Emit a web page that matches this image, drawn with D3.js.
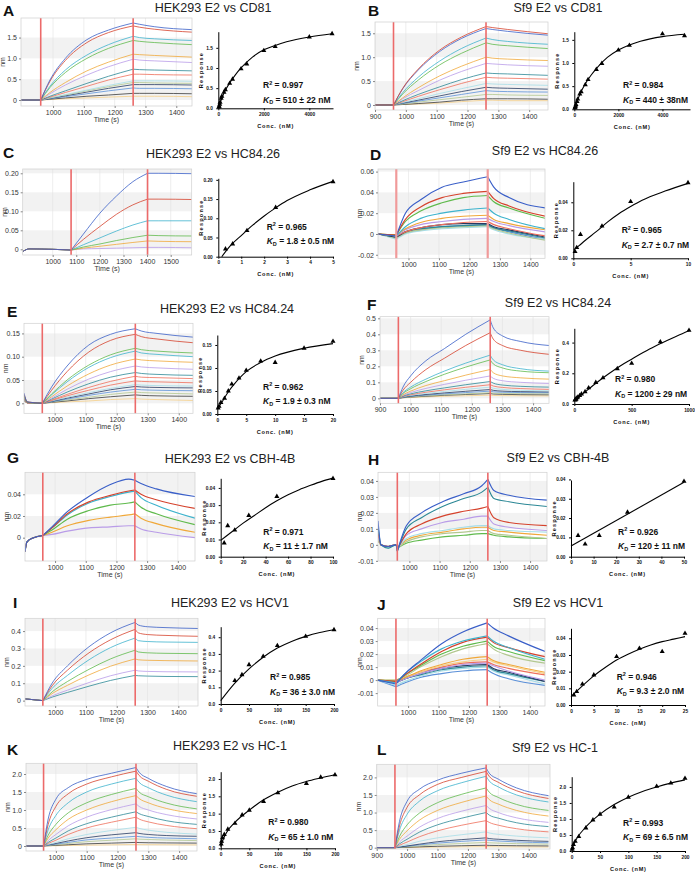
<!DOCTYPE html>
<html><head><meta charset="utf-8">
<script src="https://cdn.jsdelivr.net/npm/d3@7"></script>
<style>body{margin:0;background:#fff}svg{display:block}</style>
</head><body>
<svg id="fig" width="695" height="873"></svg>
<script>
// ================= DATA =================
const panelLetters = ["A","B","C","D","E","F","G","H","I","J","K","L"];
const panelTitles = ["HEK293 E2 vs CD81","Sf9 E2 vs CD81","HEK293 E2 vs HC84.26","Sf9 E2 vs HC84.26",
  "HEK293 E2 vs HC84.24","Sf9 E2 vs HC84.24","HEK293 E2 vs CBH-4B","Sf9 E2 vs CBH-4B",
  "HEK293 E2 vs HCV1","Sf9 E2 vs HCV1","HEK293 E2 vs HC-1","Sf9 E2 vs HC-1"];
const r2Values = ["0.997","0.984","0.965","0.965","0.962","0.980","0.971","0.926","0.985","0.946","0.980","0.993"];
const kdValues = ["510 ± 22 nM","440 ± 38nM","1.8 ± 0.5 nM","2.7 ± 0.7 nM","1.9 ± 0.3 nM","1200 ± 29 nM",
  "11 ± 1.7 nM","120 ± 11 nM","36 ± 3.0 nM","9.3 ± 2.0 nM","65 ± 1.0 nM","69 ± 6.5 nM"];
const redLines = [[960,1260],[960,1260],[1078,1402],[960,1260],[960,1260],[960,1260],
  [960,1260],[960,1260],[960,1260],[960,1260],[960,1260],[960,1260]];

// ---- A ----
const A_times = [896,960,990,1040,1110,1180,1260,1280,1330,1451];
const A_curves = [
 [0,0,0.48,1.00,1.45,1.68,1.85,1.82,1.76,1.69],
 [0,0,0.45,0.95,1.38,1.62,1.78,1.75,1.70,1.63],
 [0,0,0.33,0.72,1.08,1.33,1.53,1.50,1.47,1.43],
 [0,0,0.30,0.66,1.00,1.24,1.43,1.41,1.38,1.33],
 [0,0,0.18,0.42,0.70,0.91,1.10,1.09,1.07,1.03],
 [0,0,0.15,0.36,0.60,0.80,0.98,0.96,0.94,0.90],
 [0,0,0.09,0.22,0.40,0.57,0.74,0.73,0.72,0.70],
 [0,0,0.07,0.18,0.33,0.48,0.62,0.62,0.61,0.60],
 [0,0,0.05,0.13,0.24,0.35,0.46,0.46,0.46,0.45],
 [0,0,0.05,0.12,0.22,0.32,0.42,0.42,0.41,0.40],
 [0,0,0.04,0.10,0.19,0.28,0.37,0.37,0.37,0.36],
 [0,0,0.03,0.08,0.15,0.22,0.29,0.28,0.28,0.27],
 [0,0,0.02,0.05,0.09,0.12,0.16,0.16,0.16,0.15],
 [0,0,0.01,0.03,0.05,0.07,0.09,0.09,0.09,0.08]];
const A_conc = [31,39,62.5,78,125,156,250,312,500,625,1000,1250,2000,2500,4000,5000];
const A_resp = [0.03,0.05,0.10,0.15,0.25,0.30,0.40,0.46,0.62,0.72,0.98,1.10,1.43,1.53,1.77,1.85];
const A_fitX = [0,100,250,500,750,1000,1500,2000,2500,3000,4000,5000];
const A_fitY = [0,0.17,0.38,0.63,0.83,1.00,1.27,1.45,1.56,1.65,1.77,1.85];
const A_sgX = [1000,1100,1200,1300,1400];
const A_sgY = [0,0.5,1.0,1.5]; const A_sgYLab = ["0","0.5","1.0","1.5"];
const A_bX = [0,2000,4000]; const A_bY = [0,0.5,1.0,1.5]; const A_bYLab = ["0.0","0.5","1.0","1.5"];

// ---- B ----
const B_times = [900,960,990,1040,1110,1180,1260,1280,1330,1461];
const B_curves = [
 [0,0,0.35,0.75,1.15,1.42,1.64,1.62,1.58,1.49],
 [0,0,0.34,0.73,1.12,1.39,1.60,1.58,1.54,1.46],
 [0,0,0.26,0.58,0.92,1.18,1.40,1.37,1.33,1.27],
 [0,0,0.23,0.52,0.84,1.08,1.30,1.27,1.24,1.18],
 [0,0,0.15,0.36,0.61,0.81,1.00,0.98,0.96,0.93],
 [0,0,0.13,0.30,0.52,0.70,0.87,0.86,0.84,0.81],
 [0,0,0.09,0.22,0.38,0.53,0.67,0.66,0.65,0.62],
 [0,0,0.07,0.18,0.32,0.45,0.58,0.57,0.56,0.54],
 [0,0,0.05,0.13,0.24,0.34,0.45,0.44,0.43,0.41],
 [0,0,0.04,0.10,0.19,0.28,0.37,0.36,0.35,0.33],
 [0,0,0.03,0.08,0.15,0.22,0.30,0.29,0.28,0.27],
 [0,0,0.02,0.06,0.11,0.16,0.22,0.22,0.21,0.20],
 [0,0,0.01,0.03,0.06,0.10,0.13,0.13,0.13,0.12],
 [0,0,0.01,0.02,0.04,0.07,0.10,0.10,0.09,0.09]];
const B_conc = [31,39,62.5,78,125,156,250,312,500,625,1000,1250,2000,2500,4000,5000];
const B_resp = [0.03,0.05,0.07,0.10,0.17,0.22,0.33,0.38,0.53,0.64,0.86,0.99,1.28,1.38,1.63,1.59];
const B_fitX = [0,100,250,500,750,1000,1500,2000,2500,3000,4000,5000];
const B_fitY = [0,0.14,0.32,0.55,0.73,0.88,1.12,1.28,1.39,1.47,1.57,1.62];
const B_sgX = [900,1000,1100,1200,1300,1400];
const B_sgY = [0,0.5,1.0,1.5]; const B_sgYLab = ["0","0.5","1.0","1.5"];
const B_bX = [0,2000,4000]; const B_bY = [0,0.5,1.0,1.5]; const B_bYLab = ["0.0","0.5","1.0","1.5"];

// ---- C ----
const C_times = [873,900,1000,1078,1130,1200,1270,1340,1402,1450,1589];
const C_curves = [
 [-0.006,0.001,0,-0.002,0.040,0.095,0.140,0.178,0.200,0.200,0.199],
 [-0.006,0.001,0,-0.002,0.026,0.060,0.092,0.117,0.132,0.132,0.131],
 [-0.006,0.001,0,-0.002,0.012,0.030,0.048,0.064,0.075,0.075,0.075],
 [-0.006,0.001,0,-0.002,0.006,0.014,0.023,0.031,0.037,0.036,0.035],
 [-0.006,0.001,0,-0.002,0.003,0.008,0.013,0.018,0.022,0.021,0.020],
 [-0.006,0.001,0,-0.002,0.001,0.002,0.003,0.004,0.005,0.005,0.004]];
const C_conc = [0.3125,0.625,1.25,2.5,5];
const C_resp = [0.020,0.033,0.068,0.128,0.195];
const C_fitX = [0.15,0.5,1,1.5,2,2.5,3,4,5];
const C_fitY = [0,0.027,0.055,0.082,0.106,0.127,0.146,0.174,0.196];
const C_sgX = [1000,1100,1200,1300,1400,1500];
const C_sgY = [0,0.05,0.10,0.15,0.20]; const C_sgYLab = ["0","0.05","0.10","0.15","0.20"];
const C_bX = [0,1,2,3,4,5]; const C_bY = [0,0.05,0.10,0.15,0.20]; const C_bYLab = ["0.00","0.05","0.10","0.15","0.20"];

// ---- D ----
const D_times = [900,960,990,1040,1110,1180,1260,1280,1330,1450];
const D_curves = [
 [0,-0.002,0.020,0.033,0.045,0.050,0.055,0.045,0.035,0.025],
 [0,-0.001,0.014,0.026,0.035,0.039,0.041,0.034,0.027,0.017],
 [0,-0.001,0.012,0.022,0.030,0.035,0.037,0.031,0.025,0.015],
 [0,-0.002,0.007,0.015,0.020,0.023,0.025,0.020,0.014,0.005],
 [0,-0.001,0.005,0.011,0.015,0.017,0.018,0.014,0.010,0.004],
 [0,-0.002,0.004,0.009,0.012,0.014,0.015,0.012,0.008,0.002],
 [0,-0.002,0.002,0.006,0.009,0.011,0.012,0.009,0.005,-0.002],
 [0,-0.003,0.002,0.006,0.009,0.010,0.010,0.007,0.004,-0.003],
 [0,-0.003,0.002,0.005,0.007,0.008,0.009,0.006,0.003,-0.004],
 [0,-0.004,0.001,0.004,0.006,0.007,0.008,0.005,0.001,-0.006],
 [0,-0.005,0.000,0.003,0.005,0.006,0.007,0.004,0.000,-0.005],
 [0,-0.003,0.001,0.004,0.007,0.008,0.009,0.006,0.002,-0.005]];
const D_conc = [0.15,0.3,0.625,2.5,5,10];
const D_resp = [0.0048,0.0076,0.017,0.023,0.0405,0.054];
const D_fitX = [0.05,0.5,1,2,3,4,5,6,8,10];
const D_fitY = [0.006,0.009,0.0125,0.019,0.026,0.032,0.037,0.0415,0.048,0.0535];
const D_sgX = [1000,1100,1200,1300,1400];
const D_sgY = [-0.02,0,0.02,0.04,0.06]; const D_sgYLab = ["-0.02","0","0.02","0.04","0.06"];
const D_bX = [0,5,10]; const D_bY = [0,0.02,0.04]; const D_bYLab = ["0.00","0.02","0.04"];

// ---- E ----
const E_times = [901,912,960,990,1040,1110,1180,1260,1280,1330,1446];
const E_curves = [
 [0.022,0.003,0,0.035,0.080,0.125,0.148,0.160,0.155,0.150,0.142],
 [0.020,0.003,0,0.028,0.068,0.110,0.135,0.148,0.143,0.138,0.130],
 [0.018,0.002,0,0.020,0.050,0.082,0.104,0.118,0.115,0.112,0.108],
 [0.018,0.002,0,0.018,0.046,0.077,0.098,0.112,0.108,0.105,0.100],
 [0.015,0.002,0,0.014,0.037,0.063,0.082,0.095,0.093,0.091,0.088],
 [0.015,0.002,0,0.011,0.030,0.052,0.068,0.080,0.078,0.076,0.073],
 [0.012,0.002,0,0.009,0.024,0.042,0.056,0.066,0.064,0.062,0.060],
 [0.012,0.001,0,0.007,0.019,0.034,0.047,0.058,0.056,0.055,0.053],
 [0.010,0.001,0,0.006,0.016,0.028,0.039,0.048,0.047,0.046,0.044],
 [0.010,0.001,0,0.005,0.013,0.023,0.032,0.040,0.039,0.038,0.037],
 [0.010,0.001,0,0.004,0.011,0.020,0.029,0.036,0.035,0.034,0.033],
 [0.008,0.001,0,0.003,0.009,0.017,0.024,0.030,0.029,0.028,0.027],
 [0.008,0.001,0,0.003,0.007,0.013,0.019,0.024,0.023,0.022,0.020],
 [0.006,0.001,0,0.002,0.005,0.010,0.014,0.018,0.017,0.016,0.015],
 [0.006,0.001,0,0.001,0.003,0.005,0.008,0.010,0.009,0.008,0.006]];
const E_conc = [0.15,0.3,0.625,1.25,1.9,2.5,3.75,5,7.5,10,15,20];
const E_resp = [0.013,0.017,0.025,0.034,0.050,0.065,0.078,0.095,0.115,0.112,0.143,0.158];
const E_fitX = [0.1,0.5,1,2,3,4,5,7.5,10,15,20];
const E_fitY = [0.013,0.020,0.030,0.050,0.066,0.080,0.092,0.112,0.126,0.143,0.153];
const E_sgX = [1000,1100,1200,1300,1400];
const E_sgY = [0,0.05,0.10,0.15]; const E_sgYLab = ["0","0.05","0.10","0.15"];
const E_bX = [0,5,10,15,20]; const E_bY = [0,0.05,0.10,0.15]; const E_bYLab = ["0.00","0.05","0.10","0.15"];

// ---- F ----
const F_times = [900,960,975,1000,1050,1110,1180,1260,1270,1300,1360,1452];
const F_curves = [
 [0,0,0.070,0.140,0.235,0.310,0.400,0.490,0.440,0.390,0.355,0.330],
 [0,0,0.050,0.100,0.180,0.250,0.330,0.410,0.370,0.330,0.300,0.275],
 [0,0,0.035,0.070,0.120,0.170,0.220,0.270,0.240,0.210,0.185,0.170],
 [0,0,0.030,0.060,0.105,0.150,0.195,0.240,0.215,0.190,0.170,0.160],
 [0,0,0.022,0.045,0.080,0.110,0.145,0.180,0.160,0.140,0.128,0.120],
 [0,0,0.018,0.036,0.062,0.087,0.113,0.140,0.125,0.110,0.100,0.093],
 [0,0,0.014,0.028,0.047,0.065,0.085,0.105,0.095,0.083,0.075,0.070],
 [0,0,0.011,0.022,0.038,0.053,0.069,0.085,0.077,0.068,0.061,0.056],
 [0,0,0.009,0.018,0.031,0.043,0.056,0.070,0.063,0.056,0.050,0.047],
 [0,0,0.007,0.014,0.024,0.034,0.044,0.055,0.050,0.045,0.042,0.040],
 [0,0,0.006,0.012,0.020,0.028,0.036,0.045,0.041,0.038,0.036,0.035],
 [0,0,0.005,0.009,0.016,0.022,0.028,0.035,0.032,0.030,0.029,0.028],
 [0,0,0.004,0.008,0.013,0.019,0.024,0.030,0.027,0.025,0.023,0.022],
 [0,0,0.003,0.005,0.009,0.013,0.016,0.020,0.018,0.017,0.016,0.015]];
const F_conc = [5.9,7.8,11.7,15.6,23.4,31.25,46.9,62.5,93.75,125,187.5,250,375,500,750,1000];
const F_resp = [0.025,0.027,0.030,0.033,0.040,0.045,0.055,0.065,0.080,0.105,0.140,0.170,0.230,0.265,0.405,0.480];
const F_fitX = [0,100,200,300,400,500,600,700,800,900,1000];
const F_fitY = [0.020,0.082,0.142,0.197,0.248,0.292,0.335,0.375,0.410,0.445,0.478];
const F_sgX = [900,1000,1100,1200,1300,1400];
const F_sgY = [0,0.1,0.2,0.3,0.4,0.5]; const F_sgYLab = ["0","0.1","0.2","0.3","0.4","0.5"];
const F_bX = [0,500,1000]; const F_bY = [0,0.2,0.4]; const F_bYLab = ["0.0","0.2","0.4"];

// ---- G ----
const G_times = [902,908,930,960,990,1040,1110,1180,1240,1260,1280,1330,1456];
const G_curves = [
 [-0.013,-0.004,0,0.002,0.010,0.024,0.038,0.049,0.054,0.053,0.050,0.045,0.038],
 [-0.013,-0.004,0,0.002,0.009,0.022,0.033,0.039,0.043,0.044,0.040,0.035,0.027],
 [-0.013,-0.004,0,0.002,0.009,0.021,0.032,0.038,0.042,0.043,0.037,0.030,0.018],
 [-0.013,-0.004,0,0.002,0.007,0.017,0.025,0.030,0.032,0.033,0.028,0.022,0.012],
 [-0.013,-0.004,0,0.002,0.005,0.011,0.016,0.019,0.021,0.022,0.018,0.013,0.005],
 [-0.013,-0.004,0,0.002,0.003,0.006,0.009,0.010,0.011,0.011,0.008,0.005,0.000]];
const G_conc = [3.125,6.25,12.5,25,50,100];
const G_resp = [0.008,0.018,0.0155,0.024,0.035,0.0455];
const G_fitX = [0,10,20,30,40,50,60,70,80,90,100];
const G_fitY = [0.0095,0.0145,0.0195,0.024,0.0285,0.0325,0.036,0.039,0.0415,0.0438,0.0457];
const G_sgX = [1000,1100,1200,1300,1400];
const G_sgY = [0,0.02,0.04]; const G_sgYLab = ["0","0.02","0.04"];
const G_bX = [0,20,40,60,80,100]; const G_bY = [0,0.01,0.02,0.03,0.04]; const G_bYLab = ["0.00","0.01","0.02","0.03","0.04"];

// ---- H ----
const H_times = [896,906,930,955,960,990,1040,1110,1180,1240,1260,1280,1330,1456];
const H_curves = [
 [0.015,0.000,-0.001,0.000,-0.004,0.012,0.020,0.027,0.032,0.037,0.041,0.034,0.031,0.028],
 [0.012,0.000,-0.002,0.000,-0.004,0.010,0.017,0.024,0.029,0.033,0.036,0.029,0.027,0.024],
 [0.008,0.000,-0.001,0.000,-0.003,0.007,0.013,0.018,0.021,0.023,0.024,0.017,0.014,0.012],
 [0.006,0.000,-0.001,0.000,-0.003,0.006,0.010,0.014,0.016,0.018,0.018,0.013,0.011,0.009],
 [0.005,0.000,-0.002,0.000,-0.003,0.004,0.007,0.009,0.011,0.012,0.012,0.010,0.009,0.008],
 [0.004,0.000,-0.001,0.000,-0.002,0.003,0.006,0.008,0.010,0.011,0.011,0.009,0.008,0.006],
 [0.003,0.000,-0.001,0.000,-0.002,0.002,0.005,0.007,0.008,0.009,0.009,0.007,0.006,0.004],
 [0.003,0.000,-0.001,0.000,-0.002,0.001,0.003,0.005,0.006,0.007,0.007,0.006,0.005,0.004]];
const H_conc = [3.125,6.25,12.5,25,50];
const H_resp = [0.011,0.0065,0.011,0.023,0.039];
const H_fitX = [0,50];
const H_fitY = [0.0055,0.0385];
const H_sgX = [1000,1100,1200,1300,1400];
const H_sgY = [-0.01,0,0.01,0.02,0.03,0.04]; const H_sgYLab = ["-0.01","0","0.01","0.02","0.03","0.04"];
const H_bX = [0,10,20,30,40,50]; const H_bY = [0,0.01,0.02,0.03,0.04]; const H_bYLab = ["0.00","0.01","0.02","0.03","0.04"];

// ---- I ----
const I_times = [902,960,990,1040,1110,1180,1260,1270,1300,1360,1464];
const I_curves = [
 [0.01,0,0.100,0.200,0.310,0.390,0.450,0.435,0.425,0.420,0.415],
 [0.01,0,0.085,0.175,0.275,0.350,0.410,0.390,0.380,0.375,0.370],
 [0.01,0,0.070,0.145,0.235,0.305,0.360,0.345,0.340,0.337,0.335],
 [0.01,0,0.050,0.110,0.180,0.240,0.290,0.280,0.275,0.272,0.270],
 [0.01,0,0.040,0.088,0.148,0.198,0.240,0.235,0.232,0.230,0.228],
 [0.01,0,0.027,0.060,0.104,0.143,0.175,0.171,0.168,0.166,0.165],
 [0.01,0,0.020,0.047,0.083,0.116,0.145,0.143,0.141,0.139,0.138]];
const I_conc = [25,37.5,50,75,100,150,200];
const I_resp = [0.140,0.175,0.235,0.285,0.350,0.405,0.445];
const I_fitX = [0,25,50,75,100,125,150,175,200];
const I_fitY = [0.020,0.125,0.210,0.280,0.335,0.375,0.405,0.428,0.445];
const I_sgX = [1000,1100,1200,1300,1400];
const I_sgY = [0,0.1,0.2,0.3,0.4]; const I_sgYLab = ["0","0.1","0.2","0.3","0.4"];
const I_bX = [0,50,100,150,200]; const I_bY = [0,0.1,0.2,0.3,0.4]; const I_bYLab = ["0.0","0.1","0.2","0.3","0.4"];

// ---- J ----
const J_times = [900,960,990,1040,1110,1180,1260,1280,1330,1450];
const J_curves = [
 [0,-0.003,0.005,0.015,0.028,0.037,0.044,0.040,0.034,0.022],
 [0,-0.002,0.005,0.014,0.024,0.030,0.034,0.030,0.025,0.016],
 [0,-0.001,0.004,0.012,0.022,0.029,0.033,0.029,0.025,0.018],
 [0,-0.001,0.004,0.011,0.020,0.026,0.030,0.026,0.022,0.015],
 [0,0.000,0.003,0.010,0.018,0.024,0.028,0.024,0.019,0.013],
 [0,-0.001,0.002,0.007,0.012,0.016,0.018,0.015,0.012,0.006],
 [0,0.000,0.002,0.006,0.011,0.014,0.016,0.014,0.011,0.005],
 [0,-0.002,0.001,0.005,0.009,0.012,0.013,0.011,0.007,0.000],
 [0,-0.002,0.001,0.005,0.009,0.011,0.012,0.009,0.006,-0.001],
 [0,-0.002,0.001,0.004,0.008,0.010,0.011,0.008,0.005,-0.001],
 [0,-0.004,-0.001,0.003,0.007,0.009,0.010,0.007,0.004,-0.003],
 [0,-0.005,-0.002,0.002,0.005,0.007,0.008,0.005,0.001,-0.004],
 [0,-0.001,0.002,0.006,0.010,0.013,0.014,0.012,0.009,0.004]];
const J_conc = [0.625,1.25,2.5,5,10,15,20,25];
const J_resp = [0.006,0.008,0.0125,0.018,0.029,0.034,0.032,0.043];
const J_fitX = [0,2.5,5,7.5,10,12.5,15,17.5,20,22.5,25];
const J_fitY = [0.005,0.0115,0.0175,0.0225,0.027,0.0305,0.0335,0.036,0.038,0.0395,0.041];
const J_sgX = [1000,1100,1200,1300,1400];
const J_sgY = [-0.01,0,0.01,0.02,0.03,0.04]; const J_sgYLab = ["-0.01","0","0.01","0.02","0.03","0.04"];
const J_bX = [0,5,10,15,20,25]; const J_bY = [0,0.01,0.02,0.03,0.04]; const J_bYLab = ["0.00","0.01","0.02","0.03","0.04"];

// ---- K ----
const K_times = [903,960,975,1000,1040,1100,1180,1260,1270,1300,1360,1458];
const K_curves = [
 [0,0,0.75,1.30,1.62,1.85,2.02,2.18,2.05,1.88,1.65,1.45],
 [0,0,0.60,1.10,1.45,1.72,1.92,2.08,1.96,1.80,1.57,1.38],
 [0,0,0.45,0.85,1.20,1.50,1.72,1.88,1.77,1.62,1.41,1.23],
 [0,0,0.30,0.60,0.92,1.20,1.43,1.60,1.50,1.37,1.19,1.03],
 [0,0,0.22,0.45,0.74,1.00,1.23,1.40,1.32,1.20,1.04,0.90],
 [0,0,0.15,0.32,0.56,0.80,1.01,1.17,1.10,1.00,0.87,0.75],
 [0,0,0.10,0.22,0.42,0.62,0.80,0.95,0.90,0.82,0.70,0.60],
 [0,0,0.07,0.16,0.32,0.50,0.66,0.80,0.75,0.67,0.57,0.48],
 [0,0,0.04,0.10,0.20,0.32,0.43,0.52,0.49,0.44,0.38,0.33],
 [0,0,0.03,0.07,0.14,0.23,0.31,0.37,0.35,0.32,0.29,0.27],
 [0,0,0.02,0.05,0.10,0.17,0.22,0.27,0.26,0.24,0.22,0.20],
 [0,0,0.015,0.035,0.07,0.12,0.16,0.20,0.19,0.18,0.165,0.15],
 [0,0,0.008,0.018,0.035,0.06,0.08,0.10,0.095,0.09,0.085,0.08],
 [0,0,0.003,0.007,0.014,0.024,0.032,0.04,0.038,0.036,0.033,0.03]];
const K_conc = [0.78,1.56,3.125,6.25,12.5,25,37.5,50,75,100,150,175,200];
const K_resp = [0.12,0.20,0.30,0.40,0.55,0.72,0.96,1.10,1.35,1.60,1.87,2.05,2.12];
const K_fitX = [0,2,5,10,25,50,75,100,125,150,175,200];
const K_fitY = [0.05,0.15,0.28,0.45,0.75,1.10,1.40,1.62,1.80,1.93,2.03,2.12];
const K_sgX = [1000,1100,1200,1300,1400];
const K_sgY = [0,0.5,1.0,1.5,2.0]; const K_sgYLab = ["0","0.5","1.0","1.5","2.0"];
const K_bX = [0,50,100,150,200]; const K_bY = [0,0.5,1.0,1.5,2.0]; const K_bYLab = ["0.0","0.5","1.0","1.5","2.0"];

// ---- L ----
const L_times = [900,960,975,1000,1040,1100,1180,1260,1270,1300,1360,1465];
const L_curves = [
 [0,0,0.75,1.32,1.66,1.92,2.12,2.27,2.12,1.95,1.70,1.48],
 [0,0,0.62,1.15,1.50,1.80,2.00,2.17,2.03,1.86,1.62,1.40],
 [0,0,0.50,0.95,1.32,1.62,1.85,2.03,1.90,1.73,1.50,1.30],
 [0,0,0.32,0.65,0.98,1.28,1.52,1.70,1.58,1.43,1.23,1.06],
 [0,0,0.24,0.48,0.78,1.06,1.29,1.47,1.37,1.24,1.06,0.90],
 [0,0,0.16,0.33,0.58,0.83,1.04,1.20,1.12,1.00,0.85,0.72],
 [0,0,0.11,0.24,0.44,0.65,0.84,1.00,0.93,0.84,0.71,0.60],
 [0,0,0.07,0.16,0.31,0.48,0.64,0.77,0.72,0.64,0.54,0.45],
 [0,0,0.04,0.09,0.18,0.28,0.37,0.45,0.42,0.38,0.33,0.28],
 [0,0,0.02,0.05,0.10,0.17,0.23,0.28,0.26,0.24,0.21,0.18],
 [0,0,0.016,0.04,0.08,0.13,0.18,0.22,0.21,0.19,0.165,0.14],
 [0,0,0.01,0.026,0.052,0.088,0.12,0.15,0.14,0.13,0.115,0.10],
 [0,0,0.005,0.012,0.024,0.04,0.056,0.07,0.066,0.062,0.056,0.05],
 [0,0,0.002,0.005,0.01,0.017,0.024,0.03,0.028,0.026,0.023,0.02]];
const L_conc = [0.78,1.56,3.125,6.25,12.5,25,37.5,50,75,100,150,175,200];
const L_resp = [0.05,0.10,0.20,0.30,0.45,0.72,0.97,1.15,1.37,1.68,2.02,2.12,2.27];
const L_fitX = [0,2,5,10,25,50,75,100,125,150,175,200];
const L_fitY = [0.05,0.14,0.26,0.42,0.75,1.15,1.45,1.68,1.86,2.00,2.12,2.22];
const L_sgX = [900,1000,1100,1200,1300,1400];
const L_sgY = [0,0.5,1.0,1.5,2.0]; const L_sgYLab = ["0","0.5","1.0","1.5","2.0"];
const L_bX = [0,50,100,150,200]; const L_bY = [0,0.5,1.0,1.5,2.0]; const L_bYLab = ["0.0","0.5","1.0","1.5","2.0"];

const panelData = [
 {times:A_times,curves:A_curves,conc:A_conc,resp:A_resp,fitX:A_fitX,fitY:A_fitY,sgX:A_sgX,sgY:A_sgY,sgYLab:A_sgYLab,bX:A_bX,bY:A_bY,bYLab:A_bYLab},
 {times:B_times,curves:B_curves,conc:B_conc,resp:B_resp,fitX:B_fitX,fitY:B_fitY,sgX:B_sgX,sgY:B_sgY,sgYLab:B_sgYLab,bX:B_bX,bY:B_bY,bYLab:B_bYLab},
 {times:C_times,curves:C_curves,conc:C_conc,resp:C_resp,fitX:C_fitX,fitY:C_fitY,sgX:C_sgX,sgY:C_sgY,sgYLab:C_sgYLab,bX:C_bX,bY:C_bY,bYLab:C_bYLab},
 {times:D_times,curves:D_curves,conc:D_conc,resp:D_resp,fitX:D_fitX,fitY:D_fitY,sgX:D_sgX,sgY:D_sgY,sgYLab:D_sgYLab,bX:D_bX,bY:D_bY,bYLab:D_bYLab},
 {times:E_times,curves:E_curves,conc:E_conc,resp:E_resp,fitX:E_fitX,fitY:E_fitY,sgX:E_sgX,sgY:E_sgY,sgYLab:E_sgYLab,bX:E_bX,bY:E_bY,bYLab:E_bYLab},
 {times:F_times,curves:F_curves,conc:F_conc,resp:F_resp,fitX:F_fitX,fitY:F_fitY,sgX:F_sgX,sgY:F_sgY,sgYLab:F_sgYLab,bX:F_bX,bY:F_bY,bYLab:F_bYLab},
 {times:G_times,curves:G_curves,conc:G_conc,resp:G_resp,fitX:G_fitX,fitY:G_fitY,sgX:G_sgX,sgY:G_sgY,sgYLab:G_sgYLab,bX:G_bX,bY:G_bY,bYLab:G_bYLab},
 {times:H_times,curves:H_curves,conc:H_conc,resp:H_resp,fitX:H_fitX,fitY:H_fitY,sgX:H_sgX,sgY:H_sgY,sgYLab:H_sgYLab,bX:H_bX,bY:H_bY,bYLab:H_bYLab},
 {times:I_times,curves:I_curves,conc:I_conc,resp:I_resp,fitX:I_fitX,fitY:I_fitY,sgX:I_sgX,sgY:I_sgY,sgYLab:I_sgYLab,bX:I_bX,bY:I_bY,bYLab:I_bYLab},
 {times:J_times,curves:J_curves,conc:J_conc,resp:J_resp,fitX:J_fitX,fitY:J_fitY,sgX:J_sgX,sgY:J_sgY,sgYLab:J_sgYLab,bX:J_bX,bY:J_bY,bYLab:J_bYLab},
 {times:K_times,curves:K_curves,conc:K_conc,resp:K_resp,fitX:K_fitX,fitY:K_fitY,sgX:K_sgX,sgY:K_sgY,sgYLab:K_sgYLab,bX:K_bX,bY:K_bY,bYLab:K_bYLab},
 {times:L_times,curves:L_curves,conc:L_conc,resp:L_resp,fitX:L_fitX,fitY:L_fitY,sgX:L_sgX,sgY:L_sgY,sgYLab:L_sgYLab,bX:L_bX,bY:L_bY,bYLab:L_bYLab}
];

// ================= LAYOUT & STYLE =================
const layout = [
 {letter:[3,16],   title:[213,11.5], s:[21,18,192,106],       sx:[896,1451], sy:[-0.144,1.97],   b:[218.3,31.7,333,108.3], bx:[0,5040], by:[0,1.90],  stat:[263,88]},
 {letter:[368,16], title:[558,11.5], s:[375,22,548,110],      sx:[900,1461], sy:[-0.105,1.736],  b:[574.3,31.7,690,109.3], bx:[0,5250], by:[0,1.676], stat:[623,88]},
 {letter:[3,158],  title:[213,158],  s:[22.7,169,191.7,255],  sx:[873,1589], sy:[-0.015,0.2113], b:[218.3,178.3,333,256.7],bx:[0,5],    by:[0,0.204], stat:[266.7,229.5]},
 {letter:[370,160],title:[545,155],  s:[378,169,545,258.3],   sx:[900,1448], sy:[-0.0234,0.0625],b:[573.3,181.7,688,258.3],bx:[0,10],   by:[0,0.0547],stat:[621.7,233]},
 {letter:[7,317],  title:[227,313],  s:[24,323.3,193,413.3],  sx:[901,1446], sy:[-0.0215,0.1717],b:[217.3,335,333,414],    bx:[0,20],   by:[0,0.1717],stat:[263,389.5]},
 {letter:[367,310],title:[558,307],  s:[380,316.7,549,403.3], sx:[900,1452], sy:[-0.031,0.51],   b:[574.3,328.3,689,404],  bx:[0,1000], by:[0,0.493], stat:[615,382]},
 {letter:[7,463],  title:[230,463],  s:[25,472.3,195,561],    sx:[902,1456], sy:[-0.0215,0.0603],b:[220.7,478.3,333,556.7],bx:[0,100],  by:[0,0.0456],stat:[263.3,534.5]},
 {letter:[368,465],title:[558,462],  s:[378,472.3,547,561],   sx:[896,1456], sy:[-0.0101,0.0454],b:[571,480,684,556.7],    bx:[0,50],   by:[0,0.0397],stat:[618,534.5]},
 {letter:[13,608], title:[230,607],  s:[25,618.3,198,706],    sx:[902,1464], sy:[-0.031,0.4736], b:[220.7,626.7,334,704],  bx:[0,200],  by:[0,0.463], stat:[270,680]},
 {letter:[377,610],title:[558,607],  s:[377.7,618.3,545,706], sx:[900,1450], sy:[-0.0199,0.0475],b:[571,628.3,685,705],    bx:[0,25],   by:[0,0.046], stat:[616.7,679.5]},
 {letter:[7,755],  title:[230,750],  s:[26,763.3,197,851],    sx:[903,1458], sy:[-0.139,2.297],  b:[220.7,771.7,335,848.3],bx:[0,200],  by:[0,2.21],  stat:[268.3,825]},
 {letter:[377,755],title:[555,752],  s:[376.7,764.3,550,849], sx:[900,1470], sy:[-0.037,2.372],  b:[571.7,776.7,685,851],  bx:[0,200],  by:[0,2.32],  stat:[623,825.5]}
];
const COL = {b:"#3a5fc8", r:"#d5432d", c:"#3db3cd", g:"#5fba4c", o:"#f0a83a", l:"#b99ce8", t:"#2c8896",
  s:"#ef6f5b", lc:"#a6dde7", n:"#263a62", b2:"#5b90d8", gg:"#b3c890", k:"#3a3a3a", lo:"#f6cf86"};
const palettes = [
 ["b","r","c","g","o","l","t","s","lc","gg","n","b2","k","lo"],
 ["r","b","c","g","o","l","t","s","lc","n","b2","gg","k","lo"],
 ["b","r","c","g","o","l"],
 ["b","r","g","c","o","l","s","n","t","gg","lc","b2"],
 ["b","r","g","c","o","l","t","s","s","lc","n","b2","gg","k","lo"],
 ["b","r","c","g","o","l","t","s","lc","n","b2","gg","k","lo"],
 ["b","r","c","g","o","l"],
 ["b","t","r","l","lc","o","gg","g"],
 ["b","r","c","g","o","l","t"],
 ["b","c","r","g","gg","o","lo","l","n","t","lc","b2","s"],
 ["b","r","c","g","o","l","t","s","lc","n","b2","gg","k","lo"],
 ["b","r","c","g","o","l","t","s","lc","n","b2","gg","k","lo"]
];
const noisy = [false,false,false,true,false,false,true,true,false,true,false,false];
const FONT = "'Liberation Sans', Arial, Helvetica, sans-serif";

// ================= DRAW =================
const svg = d3.select("#fig").attr("font-family", FONT);
const defs = svg.append("defs");

function styleAxis(sel, size, weight, color) {
  sel.selectAll("text").attr("font-size", size).attr("font-weight", weight).attr("fill", color).attr("font-family", FONT);
}

function drawPanel(i) {
  const Lp = layout[i], D = panelData[i];
  const g = svg.append("g");

  g.append("text").attr("x", Lp.letter[0]).attr("y", Lp.letter[1])
    .attr("font-size", 15.5).attr("font-weight", "bold").attr("fill", "#111").text(panelLetters[i]);
  g.append("text").attr("x", Lp.title[0]).attr("y", Lp.title[1]).attr("text-anchor", "middle")
    .attr("font-size", 12.5).attr("fill", "#222").text(panelTitles[i]);

  // ---------- sensorgram ----------
  const [sx0, sy0, sx1, sy1] = Lp.s;
  const x = d3.scaleLinear().domain(Lp.sx).range([sx0, sx1]);
  const y = d3.scaleLinear().domain(Lp.sy).range([sy1, sy0]);
  const clipId = "clip" + i;
  defs.append("clipPath").attr("id", clipId).append("rect")
    .attr("x", sx0).attr("y", sy0).attr("width", sx1 - sx0).attr("height", sy1 - sy0);

  g.append("rect").attr("x", sx0).attr("y", sy0).attr("width", sx1 - sx0).attr("height", sy1 - sy0).attr("fill", "#fff");
  const yt = D.sgY;
  const bandG = g.append("g").attr("clip-path", `url(#${clipId})`);
  for (let k = 0; k < yt.length; k++) {
    if (k % 2 !== 0) continue;
    const top = k + 1 < yt.length ? y(yt[k + 1]) : sy0;
    bandG.append("rect").attr("x", sx0).attr("width", sx1 - sx0)
      .attr("y", top).attr("height", y(yt[k]) - top).attr("fill", "#f2f2f2");
  }
  D.sgX.forEach(v => bandG.append("line").attr("x1", x(v)).attr("x2", x(v)).attr("y1", sy0).attr("y2", sy1)
    .attr("stroke", "#e3e3e3").attr("stroke-width", 0.6));

  const cg = g.append("g").attr("clip-path", `url(#${clipId})`);
  const line = d3.line().x(d => x(d[0])).y(d => y(d[1])).curve(d3.curveMonotoneX);
  const t = D.times;
  const i0 = t.indexOf(redLines[i][0]), i1 = t.indexOf(redLines[i][1]);
  const sw = noisy[i] ? 1.15 : 0.8;
  for (let c = D.curves.length - 1; c >= 0; c--) {
    const v = D.curves[c];
    const pts = t.map((tt, k) => [tt, v[k]]);
    const segs = [pts.slice(0, i0 + 1), pts.slice(i0, i1 + 1), pts.slice(i1)];
    const col = COL[palettes[i][c % palettes[i].length]];
    segs.forEach(sg => cg.append("path").attr("d", line(sg)).attr("fill", "none")
      .attr("stroke", col).attr("stroke-width", sw).attr("stroke-linejoin", "round"));
  }
  redLines[i].forEach(v => {
    g.append("line").attr("x1", x(v)).attr("x2", x(v)).attr("y1", sy0).attr("y2", sy1)
      .attr("stroke", i === 3 ? "#f09a9a" : "#ec6a6a").attr("stroke-width", i === 3 ? 2.2 : 1.6);
  });
  g.append("rect").attr("x", sx0).attr("y", sy0).attr("width", sx1 - sx0).attr("height", sy1 - sy0)
    .attr("fill", "none").attr("stroke", "#cfcfcf").attr("stroke-width", 0.7);

  const xa = g.append("g").attr("transform", `translate(0,${sy1})`)
    .call(d3.axisBottom(x).tickValues(D.sgX).tickFormat(d3.format("d")).tickSize(2).tickPadding(2).tickSizeOuter(0));
  xa.select(".domain").remove();
  xa.selectAll("line").attr("stroke", "#888");
  styleAxis(xa, 7, "normal", "#333");
  const ya = g.append("g").attr("transform", `translate(${sx0},0)`)
    .call(d3.axisLeft(y).tickValues(D.sgY).tickFormat((d, k) => D.sgYLab[k]).tickSize(2).tickPadding(2).tickSizeOuter(0));
  ya.select(".domain").remove();
  ya.selectAll("line").attr("stroke", "#888");
  styleAxis(ya, 7, "normal", "#333");

  g.append("text").attr("x", (sx0 + sx1) / 2).attr("y", sy1 + 15.5).attr("text-anchor", "middle")
    .attr("font-size", 7).attr("fill", "#333").text("Time (s)");
  g.append("text").attr("transform", `translate(${sx0 - 16},${(sy0 + sy1) / 2}) rotate(-90)`)
    .attr("text-anchor", "middle").attr("font-size", 7).attr("fill", "#333").text("nm");

  // ---------- binding curve ----------
  const [bx0, by0, bx1, by1] = Lp.b;
  const bx = d3.scaleLinear().domain(Lp.bx).range([bx0, bx1]);
  const by = d3.scaleLinear().domain(Lp.by).range([by1, by0]);

  const fitLine = d3.line().x(d => bx(d[0])).y(d => by(d[1])).curve(d3.curveMonotoneX);
  g.append("path").attr("d", fitLine(D.fitX.map((v, k) => [v, D.fitY[k]])))
    .attr("fill", "none").attr("stroke", "#000").attr("stroke-width", 1.1);
  const sym = d3.symbol().type(d3.symbolTriangle).size(11);
  D.conc.forEach((c, k) => g.append("path").attr("d", sym())
    .attr("transform", `translate(${bx(c)},${by(D.resp[k])})`).attr("fill", "#000"));

  const bxa = g.append("g").attr("transform", `translate(0,${by1})`)
    .call(d3.axisBottom(bx).tickValues(D.bX).tickFormat(d3.format("d")).tickSize(2).tickPadding(2.2).tickSizeOuter(0));
  bxa.select(".domain").attr("stroke", "#000").attr("stroke-width", 1);
  bxa.selectAll("line").attr("stroke", "#000");
  styleAxis(bxa, 4.8, "bold", "#111");
  const bya = g.append("g").attr("transform", `translate(${bx0},0)`)
    .call(d3.axisLeft(by).tickValues(D.bY).tickFormat((d, k) => D.bYLab[k]).tickSize(2).tickPadding(3.5).tickSizeOuter(0));
  bya.select(".domain").attr("stroke", "#000").attr("stroke-width", 1);
  bya.selectAll("line").attr("stroke", "#000");
  styleAxis(bya, 4.8, "bold", "#111");

  g.append("text").attr("x", (bx0 + bx1) / 2).attr("y", by1 + 19.5).attr("text-anchor", "middle")
    .attr("font-size", 5.6).attr("font-weight", "bold").attr("letter-spacing", 0.8).attr("fill", "#111").text("Conc. (nM)");
  g.append("text").attr("transform", `translate(${bx0 - 15},${(by0 + by1) / 2}) rotate(-90)`)
    .attr("text-anchor", "middle").attr("font-size", 5.6).attr("font-weight", "bold").attr("letter-spacing", 1.2)
    .attr("fill", "#111").text("Response");

  const st = g.append("g").attr("font-weight", "bold").attr("font-size", 8.5).attr("fill", "#111");
  const r2 = st.append("text").attr("x", Lp.stat[0]).attr("y", Lp.stat[1]);
  r2.append("tspan").text("R");
  r2.append("tspan").attr("font-size", 5.5).attr("dy", -3.2).text("2");
  r2.append("tspan").attr("dy", 3.2).text(" = " + r2Values[i]);
  const kd = st.append("text").attr("x", Lp.stat[0]).attr("y", Lp.stat[1] + 14.5);
  kd.append("tspan").attr("font-style", "italic").text("K");
  kd.append("tspan").attr("font-size", 5.5).attr("dy", 1.8).text("D");
  kd.append("tspan").attr("dy", -1.8).text(" = " + kdValues[i]);
}

for (let i = 0; i < 12; i++) drawPanel(i);
</script>
</body></html>
